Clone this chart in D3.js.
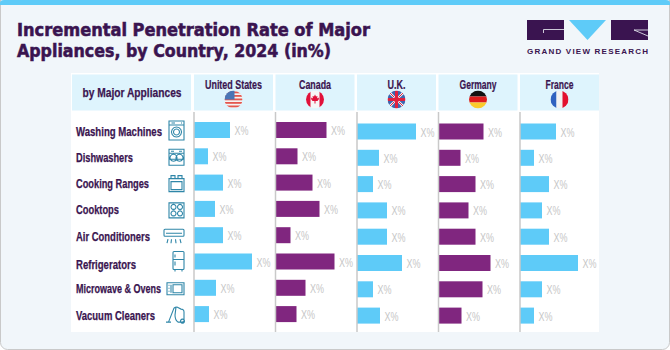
<!DOCTYPE html>
<meta charset="utf-8" />
<style>
  html, body { margin: 0; padding: 0; background: #fff; }
</style>
<script src="https://d3js.org/d3.v7.min.js"></script>
<div id="chart"></div>
<script>
  // chart values
  const appliances = ["Washing Machines", "Dishwashers", "Cooking Ranges", "Cooktops", "Air Conditioners", "Refrigerators", "Microwave & Ovens", "Vacuum Cleaners"];
  const countries = ["United States", "Canada", "U.K.", "Germany", "France"];
  const unitedStates = [36, 14, 29, 21, 29, 58, 22, 15];
  const canada = [51, 22, 37, 44, 15, 59, 30, 21];
  const uk = [59, 22, 16, 30, 30, 45, 16, 23];
  const germany = [45, 22, 37, 30, 37, 52, 44, 23];
  const france = [36, 14, 29, 22, 29, 58, 22, 14];
  const seriesValues = [unitedStates, canada, uk, germany, france];
  const valueLabel = "X%";

  const W = 670, H = 350;
  const purple = "#3a1450", teal = "#2f86a8", blue = "#5ecbf8", violet = "#80267f";
  const narrow = "'Liberation Sans', sans-serif";

  const svg = d3.select("#chart").append("svg")
    .attr("width", W).attr("height", H)
    .style("display", "block");

  // card with the blue strip on top
  svg.append("rect").attr("x", 0.5).attr("y", -8).attr("width", W - 1).attr("height", H + 7.5)
    .attr("rx", 7).attr("fill", "#f1f6fa").attr("stroke", "#c9c9c9");
  svg.append("path").attr("d", `M0,5V3Q0,0 4,0H${W - 4}Q${W},0 ${W},3V5Z`).attr("fill", blue);

  // title
  svg.selectAll(".title").data(["Incremental Penetration Rate of Major", "Appliances, by Country, 2024 (in%)"]).join("text")
    .attr("class", "title")
    .attr("x", 17).attr("y", (d, i) => 36 + i * 21)
    .attr("font-family", "'DejaVu Sans', sans-serif").attr("font-weight", 700).attr("font-size", 17)
    .attr("fill", purple).attr("stroke", purple).attr("stroke-width", 0.55)
    .attr("textLength", (d, i) => i ? 314 : 353).attr("lengthAdjust", "spacingAndGlyphs")
    .text(d => d);

  // logo
  const logo = svg.append("g").attr("fill", purple);
  logo.append("rect").attr("x", 527).attr("y", 20).attr("width", 37).attr("height", 20);
  logo.append("path").attr("d", "M569,20H606L587.5,40Z").attr("fill", blue);
  logo.append("rect").attr("x", 611).attr("y", 20).attr("width", 37).attr("height", 20);
  logo.append("path").attr("d", "M564,29.5H543.5V33M648,30H634L648,36")
    .attr("fill", "none").attr("stroke", "#f1f6fa").attr("stroke-width", 0.8);
  logo.append("text").attr("x", 527).attr("y", 54)
    .attr("font-family", "'Liberation Sans', sans-serif").attr("font-weight", 700).attr("font-size", 8)
    .attr("textLength", 121).attr("lengthAdjust", "spacing").text("GRAND VIEW RESEARCH");

  // table
  const columnStart = d3.scalePoint().domain(countries).range([194, 520]);
  const columnWidth = 79;
  const rowScale = d3.scaleLinear().domain([0, appliances.length - 1]).range([130, 130 + 26.3 * 7]);
  const x = d3.scaleLinear().domain([0, 60]).range([0, 60]);

  svg.append("rect").attr("x", 71).attr("y", 73).attr("width", 528).attr("height", 259).attr("fill", "#fff");
  svg.append("rect").attr("x", 72).attr("y", 74.5).attr("width", 119).attr("height", 36).attr("fill", "#def4fd");
  svg.append("text").attr("x", 132).attr("y", 97).attr("text-anchor", "middle")
    .attr("font-family", narrow).attr("font-weight", 700).attr("font-size", 13).attr("fill", purple)
    .attr("stroke", purple).attr("stroke-width", 0.25)
    .attr("textLength", 99).attr("lengthAdjust", "spacingAndGlyphs").text("by Major Appliances");

  const labelWidths = [86, 57, 73, 43, 74, 60, 85, 79];
  svg.selectAll(".rowLabel").data(appliances).join("text")
    .attr("class", "rowLabel")
    .attr("x", 76).attr("y", (d, i) => rowScale(i) + 5.5 + (i === 5 ? 1.5 : 0))
    .attr("font-family", narrow).attr("font-weight", 700).attr("font-size", 12.5).attr("fill", purple)
    .attr("stroke", purple).attr("stroke-width", 0.25)
    .attr("textLength", (d, i) => labelWidths[i]).attr("lengthAdjust", "spacingAndGlyphs")
    .text(d => d);

  const countryWidths = [57, 32, 18, 37, 28];

  // one column per country
  countries.forEach(function (country, c) {
    const x0 = columnStart(country);
    const col = svg.append("g").attr("transform", `translate(${x0},0)`);
    const shift = c > 1 ? 1.5 : 0;

    col.append("rect").attr("y", 74.5).attr("width", columnWidth).attr("height", 36).attr("fill", "#def4fd");
    col.append("text").attr("x", 39.5).attr("y", 88.5).attr("text-anchor", "middle")
      .attr("font-family", narrow).attr("font-weight", 700).attr("font-size", 12.5).attr("fill", purple)
      .attr("stroke", purple).attr("stroke-width", 0.2)
      .attr("textLength", countryWidths[c]).attr("lengthAdjust", "spacingAndGlyphs")
      .text(country);

    const values = seriesValues[c];
    col.selectAll(".bar").data(values).join("rect")
      .attr("class", "bar")
      .attr("x", 0).attr("y", (d, i) => rowScale(i) - 8 + shift)
      .attr("width", d => x(d)).attr("height", 16)
      .attr("fill", c % 2 ? violet : blue);
    col.selectAll(".val").data(values).join("text")
      .attr("class", "val")
      .attr("x", d => x(d) + 4.5).attr("y", (d, i) => rowScale(i) + 5 + shift)
      .attr("font-family", narrow).attr("font-size", 13).attr("fill", "#c6c6c6")
      .attr("textLength", 14).attr("lengthAdjust", "spacingAndGlyphs")
      .text(valueLabel);

    // axis line
    col.append("line").attr("x1", 0).attr("x2", 0).attr("y1", 112).attr("y2", 332)
      .attr("stroke", "#c9c9c9").attr("stroke-width", 1.5);

    drawFlag(col.append("g").attr("transform", "translate(39.5,99.5)"), c);
  });

  // flags, radius 9
  function drawFlag(g, c) {
    const id = "flag" + c;
    g.append("clipPath").attr("id", id).append("circle").attr("r", 9);
    const f = g.append("g").attr("clip-path", `url(#${id})`);
    const rect = (px, py, w, h, fill) => f.append("rect").attr("x", px).attr("y", py).attr("width", w).attr("height", h).attr("fill", fill);
    if (c === 0) {
      rect(-9, -9, 18, 18, "#f4f4f4");
      d3.range(5).forEach(i => rect(-9, -8 + i * 3.5, 18, 1.8, "#e4584f"));
      f.append("path").attr("d", "M-9,-9H1V0H-9Z").attr("fill", "#4a75b5");
    } else if (c === 1) {
      rect(-9, -9, 18, 18, "#f6f6f6");
      rect(-9, -9, 4.5, 18, "#e0103a");
      rect(4.5, -9, 4.5, 18, "#e0103a");
      f.append("path").attr("d", "M0,-5L1,-3L2.5,-3.5L2,-1L3.5,-2L4,-0.5L2.5,1.5H0.5V4H-0.5V1.5H-2.5L-4,-0.5L-3.5,-2L-2,-1L-2.5,-3.5L-1,-3Z").attr("fill", "#e0103a");
    } else if (c === 2) {
      rect(-9, -9, 18, 18, "#f4f4f4");
      f.append("path").attr("d", "M-7,-9L-1.5,-9V-3ZM7,-9L1.5,-9V-3ZM-9,-7L-3,-1.5H-9ZM9,-7L3,-1.5H9ZM-9,7L-3,1.5H-9ZM9,7L3,1.5H9ZM-7,9L-1.5,3V9ZM7,9L1.5,3V9Z").attr("fill", "#3d66b0");
      f.append("path").attr("d", "M-8,-8L-2,-2M8,-8L2,-2M-8,8L-2,2M8,8L2,2").attr("stroke", "#e0203f").attr("stroke-width", 1);
      rect(-9, -1.5, 18, 3, "#e0203f");
      rect(-1.5, -9, 3, 18, "#e0203f");
    } else if (c === 3) {
      rect(-9, -9, 18, 6, "#111");
      rect(-9, -3, 18, 6, "#dd1c1c");
      rect(-9, 3, 18, 6, "#fbcb2b");
    } else {
      rect(-9, -9, 6, 18, "#2f62c0");
      rect(-3, -9, 6, 18, "#f2f2f2");
      rect(3, -9, 6, 18, "#e3102f");
    }
  }

  // appliance icons, drawn from the right edge of the label cell and the row centre
  const iconPaths = [
    "M-15,-10H0V9H-15ZM-15,-6H0M-12.5,-8H-9M-3,-8H-2M-7.5,-4A5,5 0 1,0 -7.49,-4ZM-7.5,-2A3,3 0 1,0 -7.49,-2Z",
    "M-15,-8H0V8H-15ZM-15,-4H0M-15,2H0M-13,-6H-10M-5,-6H-2M-10.5,-3A3.5,3.5 0 1,0 -10.49,-3ZM-4.5,-3A3.5,3.5 0 1,0 -4.49,-3Z",
    "M-15,-5H0V8H-15ZM-13,-2H-2V6H-13ZM-13,-5V-8H-9V-5M-6,-5V-8H-2V-5",
    "M-15,-7H0V8H-15ZM-10.5,-5.5A2.5,2.5 0 1,0 -10.49,-5.5ZM-4,-5.5A2.5,2.5 0 1,0 -3.99,-5.5ZM-10.5,1A2.5,2.5 0 1,0 -10.49,1ZM-4,1A2.5,2.5 0 1,0 -3.99,1Z",
    "M-19,-7Q-20,-7 -20,-6V-1Q-20,0 -19,0H-1Q0,0 0,-1V-6Q0,-7 -1,-7ZM-18,-3H-2M-16,3L-17,7M-12.5,3L-13,7M-8.5,3L-8,7M-4,3L-3,7",
    "M-11,-10Q-11,-11 -10,-11H-1Q0,-11 0,-10V6Q0,7 -1,7H-10Q-11,7 -11,6ZM-11,-3H0M-9,-8V-5M-9,-1V3M-9,7V9M-2,7V9",
    "M-17,-6H0V6H-17ZM-13,-4V4M-15.5,-3.5H-14.5M-15.5,-0.5H-14.5M-15.5,2.5H-14.5M-11,-4H-2V4H-11Z",
    "M-18,7H-13M-15.5,7L-10,-7Q-9,-8 -7,-8L-3,-6Q0,-6 0,-3V6Q0,7 -2,7H-6Q-9,5 -9,0L-8,-8M-1.5,4A2,2 0 1,0 -1.49,4Z"
  ];
  svg.selectAll(".icon").data(iconPaths).join("path")
    .attr("class", "icon")
    .attr("transform", (d, i) => `translate(184,${rowScale(i) + 1})`)
    .attr("d", d => d)
    .attr("fill", "none").attr("stroke", teal).attr("stroke-width", 1.1);
</script>
